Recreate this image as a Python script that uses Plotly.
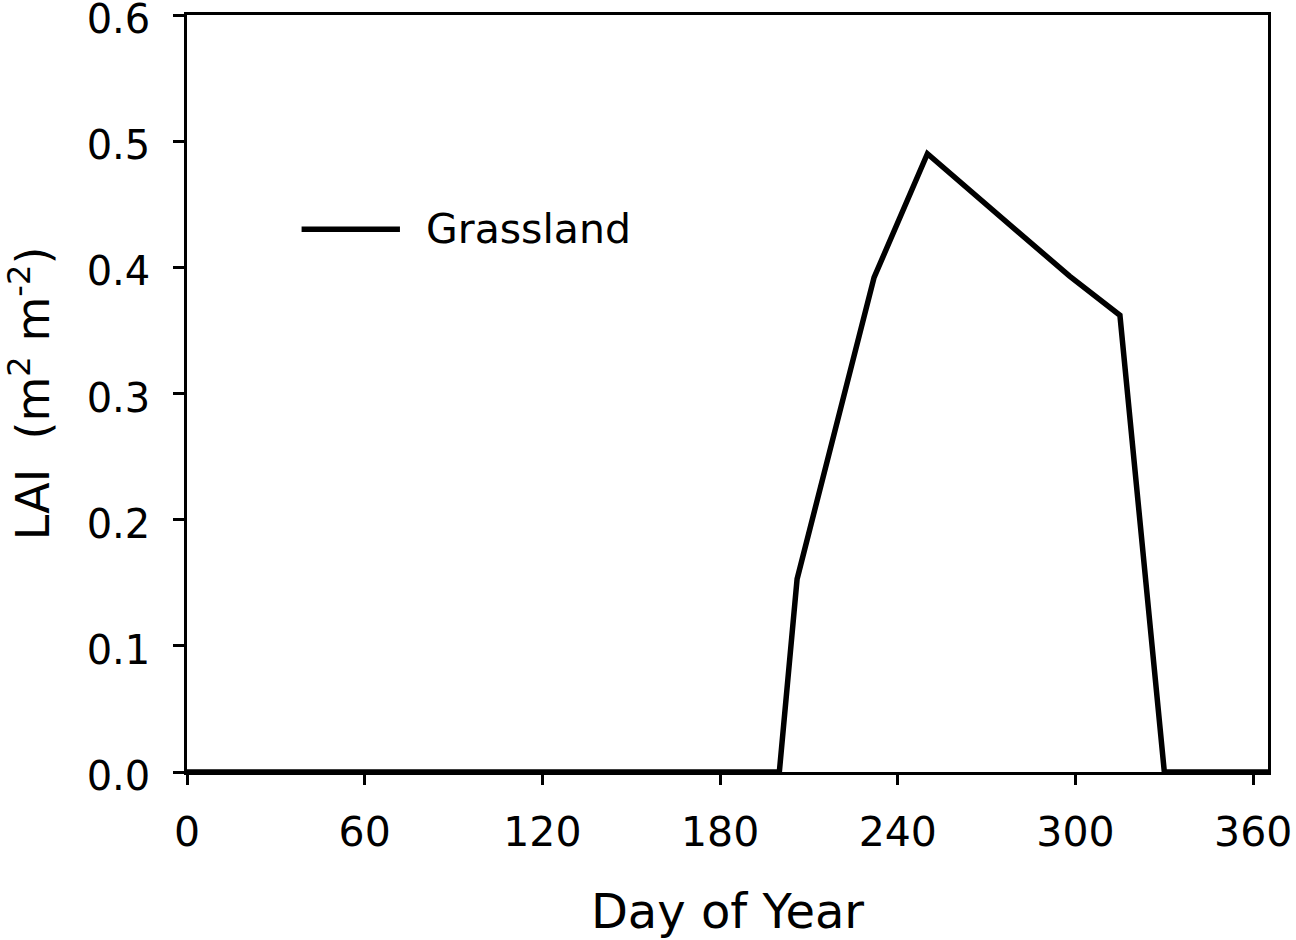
import plotly.graph_objects as go

day = [0, 200, 206, 232, 250, 266, 298, 315, 330, 365]
lai = [0.0, 0.0, 0.153, 0.392, 0.490, 0.458, 0.393, 0.362, 0.0, 0.0]
series_name = "Grassland"
x_ticks = [0, 60, 120, 180, 240, 300, 360]
y_ticks = [0.0, 0.1, 0.2, 0.3, 0.4, 0.5, 0.6]

FONT = "DejaVu Sans"

fig = go.Figure()
fig.add_trace(go.Scatter(
    x=day, y=lai, mode="lines", name=series_name,
    line=dict(color="black", width=5.5), cliponaxis=False, showlegend=False,
))

# manual legend (line sample + label)
fig.add_shape(type="line", xref="paper", yref="paper",
              x0=0.106, x1=0.197, y0=0.717, y1=0.717,
              line=dict(color="black", width=5.5))
fig.add_annotation(xref="paper", yref="paper", x=0.219, y=0.717,
                   text=series_name, showarrow=False, xanchor="left", yanchor="middle",
                   font=dict(family=FONT, size=41, color="black"))

fig.update_layout(
    width=1296, height=940,
    margin=dict(l=187, r=28, t=15, b=168),
    paper_bgcolor="white", plot_bgcolor="white",
    font=dict(family=FONT, color="black"),
)
fig.update_xaxes(
    range=[0, 365], tickvals=x_ticks, ticktext=[str(v) for v in x_ticks],
    showgrid=False, zeroline=False, showline=True, linecolor="black", linewidth=2.5,
    mirror=True, ticks="outside", ticklen=10, tickwidth=2.5, tickcolor="black",
    tickfont=dict(family=FONT, size=41), ticklabelstandoff=12, ticklabeloverflow="allow",
    automargin=False,
    title=dict(text="Day of Year", font=dict(family=FONT, size=48), standoff=40),
)
fig.update_yaxes(
    range=[0, 0.6], tickvals=y_ticks, ticktext=[f"{v:.1f}" for v in y_ticks],
    showgrid=False, zeroline=False, showline=True, linecolor="black", linewidth=2.5,
    mirror=True, ticks="outside", ticklen=11, tickwidth=2.5, tickcolor="black",
    tickfont=dict(family=FONT, size=40), ticklabelstandoff=15, ticklabelshift=4,
    ticklabeloverflow="allow", automargin=False,
    title=dict(text="LAI  (m<sup>2</sup> m<sup>-2</sup>)", font=dict(family=FONT, size=46), standoff=35),
)

fig.write_html("out.html", config={"displayModeBar": False},
               post_script="document.body.style.margin='0';")
